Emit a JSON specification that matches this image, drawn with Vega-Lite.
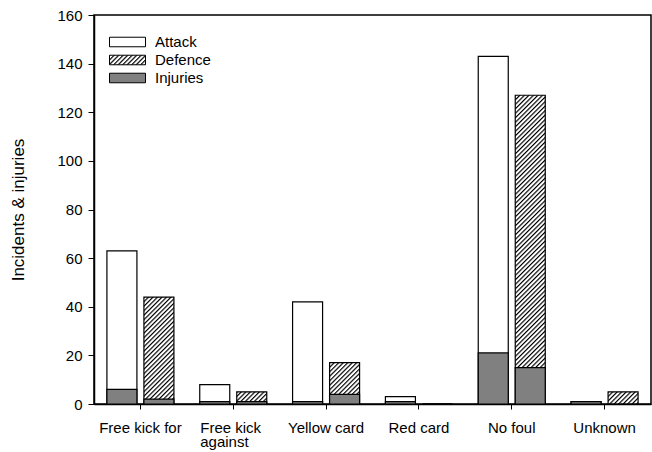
{
 "$schema": "https://vega.github.io/schema/vega-lite/v6.json",
 "autosize": {"type": "none"},
 "padding": {"left": 94, "top": 15, "right": 1, "bottom": 48},
 "width": 557,
 "height": 389,
 "background": "white",
 "config": {
  "font": "Liberation Sans",
  "view": {"stroke": "black", "strokeWidth": 1.5},
  "axis": {"labelFont": "Liberation Sans", "labelFontSize": 15, "labelColor": "black", "domainColor": "black", "domainWidth": 1.5, "tickColor": "black", "tickWidth": 1, "grid": false, "titleFont": "Liberation Sans", "titleFontWeight": "normal", "titleColor": "black"}
 },
 "params": [{"name": "hatch", "value": [
{"offset":0.00,"color":"#000"},{"offset":0.0045,"color":"#fff"},{"offset":0.0072,"color":"#fff"},
{"offset":0.01,"color":"#000"},{"offset":0.0145,"color":"#fff"},{"offset":0.0172,"color":"#fff"},
{"offset":0.02,"color":"#000"},{"offset":0.0245,"color":"#fff"},{"offset":0.0272,"color":"#fff"},
{"offset":0.03,"color":"#000"},{"offset":0.0345,"color":"#fff"},{"offset":0.0372,"color":"#fff"},
{"offset":0.04,"color":"#000"},{"offset":0.0445,"color":"#fff"},{"offset":0.0472,"color":"#fff"},
{"offset":0.05,"color":"#000"},{"offset":0.0545,"color":"#fff"},{"offset":0.0572,"color":"#fff"},
{"offset":0.06,"color":"#000"},{"offset":0.0645,"color":"#fff"},{"offset":0.0672,"color":"#fff"},
{"offset":0.07,"color":"#000"},{"offset":0.0745,"color":"#fff"},{"offset":0.0772,"color":"#fff"},
{"offset":0.08,"color":"#000"},{"offset":0.0845,"color":"#fff"},{"offset":0.0872,"color":"#fff"},
{"offset":0.09,"color":"#000"},{"offset":0.0945,"color":"#fff"},{"offset":0.0972,"color":"#fff"},
{"offset":0.10,"color":"#000"},{"offset":0.1045,"color":"#fff"},{"offset":0.1072,"color":"#fff"},
{"offset":0.11,"color":"#000"},{"offset":0.1145,"color":"#fff"},{"offset":0.1172,"color":"#fff"},
{"offset":0.12,"color":"#000"},{"offset":0.1245,"color":"#fff"},{"offset":0.1272,"color":"#fff"},
{"offset":0.13,"color":"#000"},{"offset":0.1345,"color":"#fff"},{"offset":0.1372,"color":"#fff"},
{"offset":0.14,"color":"#000"},{"offset":0.1445,"color":"#fff"},{"offset":0.1472,"color":"#fff"},
{"offset":0.15,"color":"#000"},{"offset":0.1545,"color":"#fff"},{"offset":0.1572,"color":"#fff"},
{"offset":0.16,"color":"#000"},{"offset":0.1645,"color":"#fff"},{"offset":0.1672,"color":"#fff"},
{"offset":0.17,"color":"#000"},{"offset":0.1745,"color":"#fff"},{"offset":0.1772,"color":"#fff"},
{"offset":0.18,"color":"#000"},{"offset":0.1845,"color":"#fff"},{"offset":0.1872,"color":"#fff"},
{"offset":0.19,"color":"#000"},{"offset":0.1945,"color":"#fff"},{"offset":0.1972,"color":"#fff"},
{"offset":0.20,"color":"#000"},{"offset":0.2045,"color":"#fff"},{"offset":0.2072,"color":"#fff"},
{"offset":0.21,"color":"#000"},{"offset":0.2145,"color":"#fff"},{"offset":0.2172,"color":"#fff"},
{"offset":0.22,"color":"#000"},{"offset":0.2245,"color":"#fff"},{"offset":0.2272,"color":"#fff"},
{"offset":0.23,"color":"#000"},{"offset":0.2345,"color":"#fff"},{"offset":0.2372,"color":"#fff"},
{"offset":0.24,"color":"#000"},{"offset":0.2445,"color":"#fff"},{"offset":0.2472,"color":"#fff"},
{"offset":0.25,"color":"#000"},{"offset":0.2545,"color":"#fff"},{"offset":0.2572,"color":"#fff"},
{"offset":0.26,"color":"#000"},{"offset":0.2645,"color":"#fff"},{"offset":0.2672,"color":"#fff"},
{"offset":0.27,"color":"#000"},{"offset":0.2745,"color":"#fff"},{"offset":0.2772,"color":"#fff"},
{"offset":0.28,"color":"#000"},{"offset":0.2845,"color":"#fff"},{"offset":0.2872,"color":"#fff"},
{"offset":0.29,"color":"#000"},{"offset":0.2945,"color":"#fff"},{"offset":0.2972,"color":"#fff"},
{"offset":0.30,"color":"#000"},{"offset":0.3045,"color":"#fff"},{"offset":0.3072,"color":"#fff"},
{"offset":0.31,"color":"#000"},{"offset":0.3145,"color":"#fff"},{"offset":0.3172,"color":"#fff"},
{"offset":0.32,"color":"#000"},{"offset":0.3245,"color":"#fff"},{"offset":0.3272,"color":"#fff"},
{"offset":0.33,"color":"#000"},{"offset":0.3345,"color":"#fff"},{"offset":0.3372,"color":"#fff"},
{"offset":0.34,"color":"#000"},{"offset":0.3445,"color":"#fff"},{"offset":0.3472,"color":"#fff"},
{"offset":0.35,"color":"#000"},{"offset":0.3545,"color":"#fff"},{"offset":0.3572,"color":"#fff"},
{"offset":0.36,"color":"#000"},{"offset":0.3645,"color":"#fff"},{"offset":0.3672,"color":"#fff"},
{"offset":0.37,"color":"#000"},{"offset":0.3745,"color":"#fff"},{"offset":0.3772,"color":"#fff"},
{"offset":0.38,"color":"#000"},{"offset":0.3845,"color":"#fff"},{"offset":0.3872,"color":"#fff"},
{"offset":0.39,"color":"#000"},{"offset":0.3945,"color":"#fff"},{"offset":0.3972,"color":"#fff"},
{"offset":0.40,"color":"#000"},{"offset":0.4045,"color":"#fff"},{"offset":0.4072,"color":"#fff"},
{"offset":0.41,"color":"#000"},{"offset":0.4145,"color":"#fff"},{"offset":0.4172,"color":"#fff"},
{"offset":0.42,"color":"#000"},{"offset":0.4245,"color":"#fff"},{"offset":0.4272,"color":"#fff"},
{"offset":0.43,"color":"#000"},{"offset":0.4345,"color":"#fff"},{"offset":0.4372,"color":"#fff"},
{"offset":0.44,"color":"#000"},{"offset":0.4445,"color":"#fff"},{"offset":0.4472,"color":"#fff"},
{"offset":0.45,"color":"#000"},{"offset":0.4545,"color":"#fff"},{"offset":0.4572,"color":"#fff"},
{"offset":0.46,"color":"#000"},{"offset":0.4645,"color":"#fff"},{"offset":0.4672,"color":"#fff"},
{"offset":0.47,"color":"#000"},{"offset":0.4745,"color":"#fff"},{"offset":0.4772,"color":"#fff"},
{"offset":0.48,"color":"#000"},{"offset":0.4845,"color":"#fff"},{"offset":0.4872,"color":"#fff"},
{"offset":0.49,"color":"#000"},{"offset":0.4945,"color":"#fff"},{"offset":0.4972,"color":"#fff"},
{"offset":0.50,"color":"#000"},{"offset":0.5045,"color":"#fff"},{"offset":0.5072,"color":"#fff"},
{"offset":0.51,"color":"#000"},{"offset":0.5145,"color":"#fff"},{"offset":0.5172,"color":"#fff"},
{"offset":0.52,"color":"#000"},{"offset":0.5245,"color":"#fff"},{"offset":0.5272,"color":"#fff"},
{"offset":0.53,"color":"#000"},{"offset":0.5345,"color":"#fff"},{"offset":0.5372,"color":"#fff"},
{"offset":0.54,"color":"#000"},{"offset":0.5445,"color":"#fff"},{"offset":0.5472,"color":"#fff"},
{"offset":0.55,"color":"#000"},{"offset":0.5545,"color":"#fff"},{"offset":0.5572,"color":"#fff"},
{"offset":0.56,"color":"#000"},{"offset":0.5645,"color":"#fff"},{"offset":0.5672,"color":"#fff"},
{"offset":0.57,"color":"#000"},{"offset":0.5745,"color":"#fff"},{"offset":0.5772,"color":"#fff"},
{"offset":0.58,"color":"#000"},{"offset":0.5845,"color":"#fff"},{"offset":0.5872,"color":"#fff"},
{"offset":0.59,"color":"#000"},{"offset":0.5945,"color":"#fff"},{"offset":0.5972,"color":"#fff"},
{"offset":0.60,"color":"#000"},{"offset":0.6045,"color":"#fff"},{"offset":0.6072,"color":"#fff"},
{"offset":0.61,"color":"#000"},{"offset":0.6145,"color":"#fff"},{"offset":0.6172,"color":"#fff"},
{"offset":0.62,"color":"#000"},{"offset":0.6245,"color":"#fff"},{"offset":0.6272,"color":"#fff"},
{"offset":0.63,"color":"#000"},{"offset":0.6345,"color":"#fff"},{"offset":0.6372,"color":"#fff"},
{"offset":0.64,"color":"#000"},{"offset":0.6445,"color":"#fff"},{"offset":0.6472,"color":"#fff"},
{"offset":0.65,"color":"#000"},{"offset":0.6545,"color":"#fff"},{"offset":0.6572,"color":"#fff"},
{"offset":0.66,"color":"#000"},{"offset":0.6645,"color":"#fff"},{"offset":0.6672,"color":"#fff"},
{"offset":0.67,"color":"#000"},{"offset":0.6745,"color":"#fff"},{"offset":0.6772,"color":"#fff"},
{"offset":0.68,"color":"#000"},{"offset":0.6845,"color":"#fff"},{"offset":0.6872,"color":"#fff"},
{"offset":0.69,"color":"#000"},{"offset":0.6945,"color":"#fff"},{"offset":0.6972,"color":"#fff"},
{"offset":0.70,"color":"#000"},{"offset":0.7045,"color":"#fff"},{"offset":0.7072,"color":"#fff"},
{"offset":0.71,"color":"#000"},{"offset":0.7145,"color":"#fff"},{"offset":0.7172,"color":"#fff"},
{"offset":0.72,"color":"#000"},{"offset":0.7245,"color":"#fff"},{"offset":0.7272,"color":"#fff"},
{"offset":0.73,"color":"#000"},{"offset":0.7345,"color":"#fff"},{"offset":0.7372,"color":"#fff"},
{"offset":0.74,"color":"#000"},{"offset":0.7445,"color":"#fff"},{"offset":0.7472,"color":"#fff"},
{"offset":0.75,"color":"#000"},{"offset":0.7545,"color":"#fff"},{"offset":0.7572,"color":"#fff"},
{"offset":0.76,"color":"#000"},{"offset":0.7645,"color":"#fff"},{"offset":0.7672,"color":"#fff"}
 ]}],
 "data": {"values": [
  {"cat": "Free kick for", "side": "Attack", "total": 63, "inj": 6},
  {"cat": "Free kick for", "side": "Defence", "total": 44, "inj": 2},
  {"cat": "Free kick against", "side": "Attack", "total": 8, "inj": 1},
  {"cat": "Free kick against", "side": "Defence", "total": 5, "inj": 1},
  {"cat": "Yellow card", "side": "Attack", "total": 42, "inj": 1},
  {"cat": "Yellow card", "side": "Defence", "total": 17, "inj": 4},
  {"cat": "Red card", "side": "Attack", "total": 3, "inj": 1},
  {"cat": "Red card", "side": "Defence", "total": 0, "inj": 0},
  {"cat": "No foul", "side": "Attack", "total": 143, "inj": 21},
  {"cat": "No foul", "side": "Defence", "total": 127, "inj": 15},
  {"cat": "Unknown", "side": "Attack", "total": 1, "inj": 1},
  {"cat": "Unknown", "side": "Defence", "total": 5, "inj": 0}
 ]},
 "encoding": {
  "x": {
   "field": "cat", "type": "nominal",
   "sort": ["Free kick for", "Free kick against", "Yellow card", "Red card", "No foul", "Unknown"],
   "scale": {"paddingInner": 0, "paddingOuter": 0},
   "axis": {"title": null, "labelAngle": 0, "tickSize": 5, "labelPadding": 11, "labelBaseline": "top", "labelLineHeight": 14.5,
    "labelAlign": {"condition": {"test": "datum.value === 'Free kick against'", "value": "left"}, "value": "center"},
    "labelOffset": {"condition": {"test": "datum.value === 'Free kick against'", "value": -33}, "value": 0},
    "labelExpr": "datum.value === 'Free kick against' ? ['Free kick', 'against'] : datum.value"}
  },
  "xOffset": {"field": "side", "type": "nominal", "sort": ["Attack", "Defence"], "scale": {"paddingInner": 0.189, "paddingOuter": 0.349}}
 },
 "layer": [
  {
   "mark": {"type": "bar", "stroke": "black", "strokeWidth": 1.2,
    "fill": {"expr": "datum.side === 'Defence' ? {gradient: 'linear', x1: 0, y1: 0, x2: 13500/(900+pow(datum.total*2.43125,2)), y2: 450*datum.total*2.43125/(900+pow(datum.total*2.43125,2)), stops: hatch} : '#ffffff'"}},
   "encoding": {
    "y": {"field": "total", "type": "quantitative", "stack": null, "title": "Incidents & injuries",
     "scale": {"domain": [0, 160], "nice": false},
     "axis": {"values": [0, 20, 40, 60, 80, 100, 120, 140, 160], "tickSize": 6, "labelPadding": 6, "titleFontSize": 17, "titleAngle": -90, "titleX": -71, "titleY": 194.5, "titleAlign": "center", "titleBaseline": "alphabetic"}}
   }
  },
  {
   "mark": {"type": "bar", "stroke": "black", "strokeWidth": 1.2},
   "encoding": {
    "y": {"field": "inj", "type": "quantitative", "stack": null, "title": "Incidents & injuries"},
    "fill": {"datum": "Injuries", "type": "nominal",
     "scale": {"domain": ["Attack", "Defence", "Injuries"], "range": ["#ffffff", {"expr": "{gradient: 'linear', x1: 0, y1: 0, x2: 11.686, y2: 3.084, stops: hatch}"}, "#808080"]},
     "legend": {"title": null, "orient": "none", "legendX": 24, "legendY": 17.5, "padding": 0, "rowPadding": 0,
      "symbolType": "M-2,-0.53H2V0.53H-2Z", "symbolSize": 324, "symbolStrokeColor": "black", "symbolStrokeWidth": 1,
      "labelFontSize": 15, "labelColor": "black", "labelFont": "Liberation Sans", "labelOffset": 18, "labelBaseline": "middle"}
    }
   }
  }
 ]
}
